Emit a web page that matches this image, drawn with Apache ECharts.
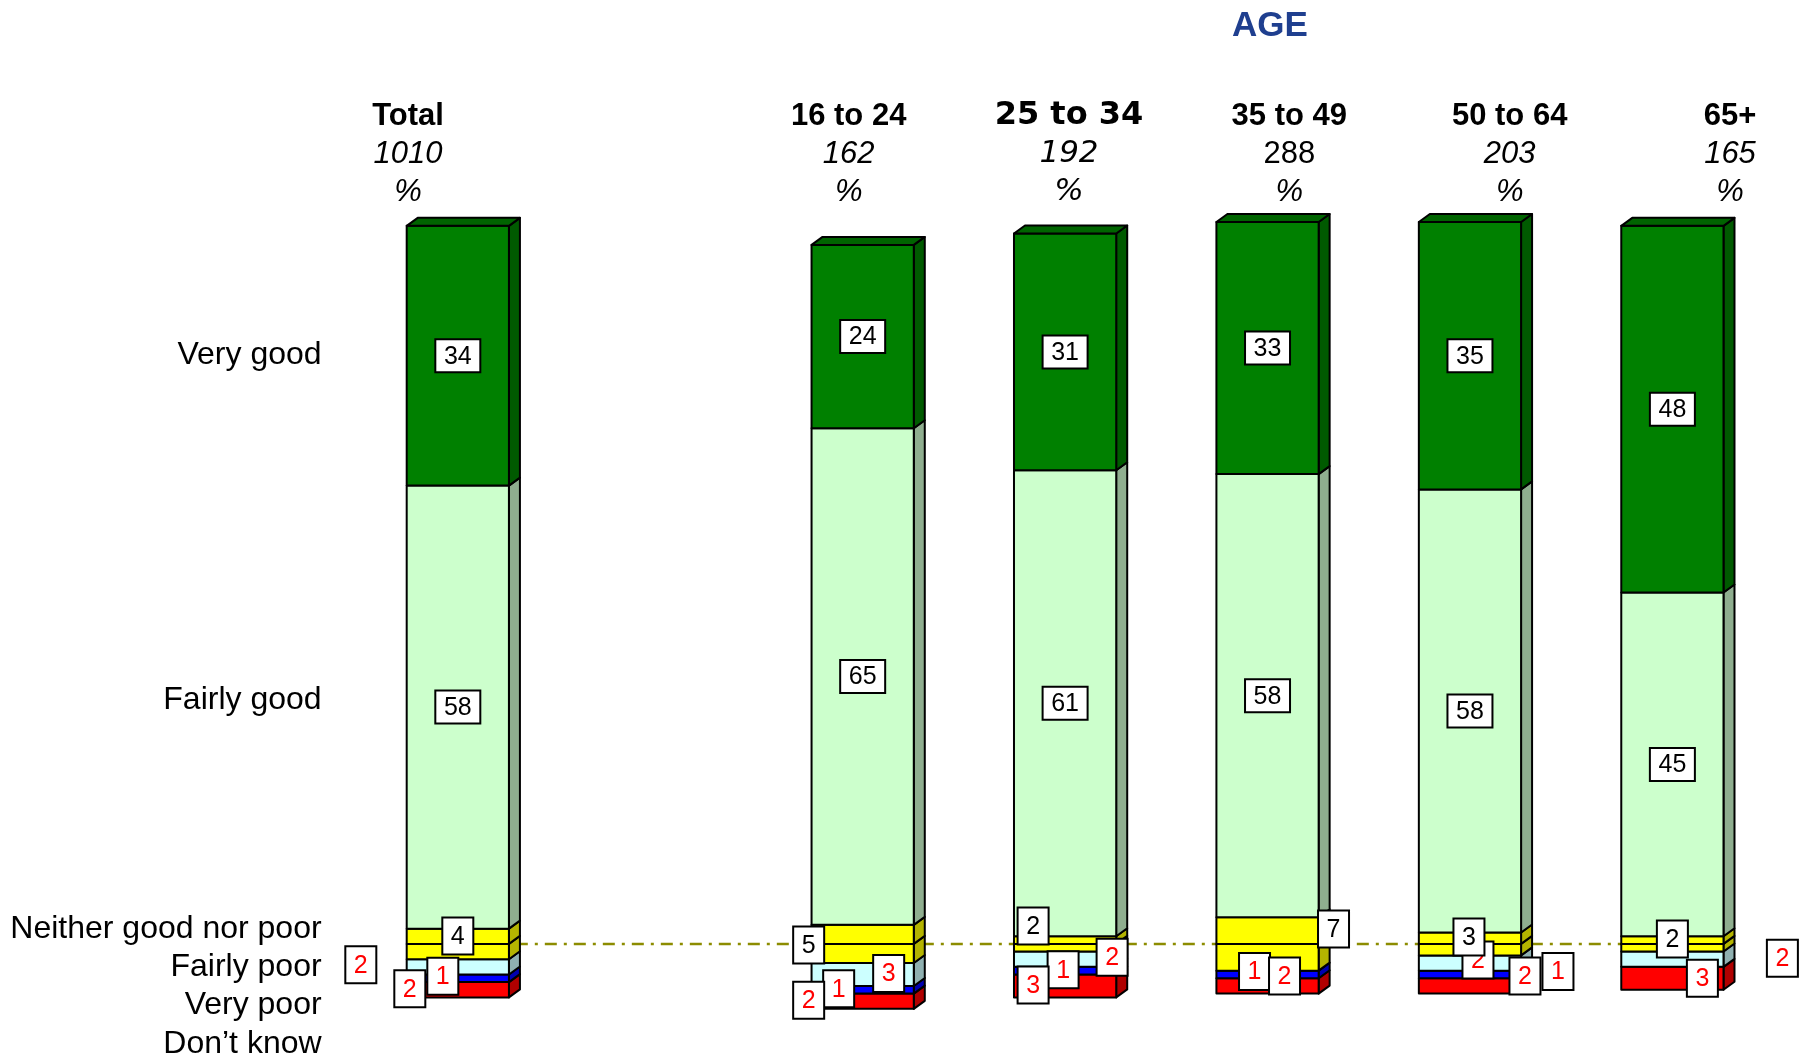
<!DOCTYPE html>
<html>
<head>
<meta charset="utf-8">
<title>Health by age</title>
<script src="https://cdn.jsdelivr.net/npm/echarts@6/dist/echarts.min.js"></script>
<style>
    html, body { margin: 0; padding: 0; background: #fff; }
    #chart-container { width: 1808px; height: 1060px; }
</style>
</head>
<body>
<div id="chart-container"></div>
<script>
// 列：Total，空列，然后是年龄段
const categories = ['Total', '', '16 to 24', '25 to 34', '35 to 49', '50 to 64', '65+'];
const bases = ['1010', '', '162', '192', '288', '203', '165'];
const rowLabels = ['Very good', 'Fairly good', 'Neither good nor poor', 'Fairly poor', 'Very poor', 'Don’t know'];
const rowLabelPos = [77.1, 31.9, 1.9, -3.1, -8.0, -13.1];

const veryGood   = [34, null, 24, 31, 33, 35, 48];
const fairlyGood = [58, null, 65, 61, 58, 58, 45];
const neither    = [4, null, 5, 2, 7, 3, 2];
const fairlyPoor = [2, null, 3, 2, 0, 2, 2];
const veryPoor   = [1, null, 1, 1, 1, 1, 0];
const dontKnow   = [2, null, 2, 3, 2, 2, 3];

// 小标签的偏移（像素）
const labelNudge = {
    neither:    [[0, -8], null, [-54, 1], [-32, -18], [66, -15], [-1, -7], [0, -5]],
    fairlyPoor: [[-97, -2], null, [26, -1], [47, -2], null, [8, -3], [110, -1]],
    veryPoor:   [[-15, -2], null, [-24, -1], [-2, -1], [-13, -3], [88, -3], null],
    dontKnow:   [[-48, -1], null, [-54, -1], [-32, -1], [17, -10], [55, -10], [30, 0]]
};

const palette = {
    veryGood:   { front: '#008000', side: '#005a00', top: '#006400' },
    fairlyGood: { front: '#ccffcc', side: '#8fae8f' },
    neither:    { front: '#ffff00', side: '#b4b400' },
    fairlyPoor: { front: '#ccffff', side: '#8fb0b0' },
    veryPoor:   { front: '#0000ff', side: '#0000b0' },
    dontKnow:   { front: '#ff0000', side: '#b00000' }
};
const DX = 11, DY = -8;

// 以中性项的中点为基线，正负两边堆叠
const segs = categories.map((c, i) => {
    if (veryGood[i] == null) return null;
    const half = neither[i] / 2;
    const fgTop = half + fairlyGood[i];
    const fpBot = -half - fairlyPoor[i];
    const vpBot = fpBot - veryPoor[i];
    return {
        veryGood: [fgTop, fgTop + veryGood[i]],
        fairlyGood: [half, fgTop],
        neitherUp: [0, half],
        neitherDown: [-half, 0],
        fairlyPoor: [fpBot, -half],
        veryPoor: [vpBot, fpBot],
        dontKnow: [vpBot - dontKnow[i], vpBot]
    };
});

const draw3d = (api, col, withTop) => {
    const i = api.value(0);
    const lo = api.coord([i, api.value(1)]);
    const hi = api.coord([i, api.value(2)]);
    const w = api.size([1, 0])[0] * 0.505;
    const x0 = lo[0] - w / 2, x1 = lo[0] + w / 2;
    const yT = hi[1], yB = lo[1];
    const line = { stroke: '#000', lineWidth: 2, lineJoin: 'round' };
    const children = [
        { type: 'polygon', shape: { points: [[x1, yT], [x1 + DX, yT + DY], [x1 + DX, yB + DY], [x1, yB]] }, style: { fill: col.side, ...line } },
        { type: 'rect', shape: { x: x0, y: yT, width: w, height: yB - yT }, style: { fill: col.front, ...line } }
    ];
    if (withTop) {
        children.push({ type: 'polygon', shape: { points: [[x0, yT], [x0 + DX, yT + DY], [x1 + DX, yT + DY], [x1, yT]] }, style: { fill: col.top, ...line } });
    }
    return { type: 'group', children };
};

const barSeries = (key, parts) => {
    const data = [];
    segs.forEach((s, i) => {
        if (!s) return;
        parts.forEach(p => {
            const [lo, hi] = s[p];
            if (hi - lo > 0) data.push([i, lo, hi]);
        });
    });
    return {
        type: 'custom', name: key, z: 2,
        renderItem: (params, api) => draw3d(api, palette[key], key === 'veryGood'),
        encode: { x: 0, y: [1, 2] },
        data
    };
};

// 数据标签
const mid = r => (r[0] + r[1]) / 2;
const labelData = [];
const smallRows = [['fairlyPoor', fairlyPoor], ['veryPoor', veryPoor], ['dontKnow', dontKnow]];
segs.forEach((s, i) => {
    if (!s) return;
    smallRows.forEach(([key, arr]) => {
        if (!arr[i]) return;
        const n = labelNudge[key][i];
        labelData.push({ i, y: mid(s[key]), text: String(arr[i]), kind: 'small', dx: n[0], dy: n[1] });
    });
});
segs.forEach((s, i) => {
    if (!s) return;
    const n = labelNudge.neither[i];
    labelData.push({ i, y: 0, text: String(neither[i]), kind: 'neutral', dx: n[0], dy: n[1] });
    labelData.push({ i, y: mid(s.fairlyGood), text: String(fairlyGood[i]), kind: 'big', dx: 0, dy: 0 });
    labelData.push({ i, y: mid(s.veryGood), text: String(veryGood[i]), kind: 'big', dx: 0, dy: 0 });
});

const drawLabel = (params, api) => {
    const d = labelData[params.dataIndex];
    const p = api.coord([d.i, d.y]);
    const big = d.kind === 'big';
    const w = big ? 45 : 31, h = big ? 33 : 37;
    const cx = p[0] + d.dx, cy = p[1] + d.dy;
    return {
        type: 'group',
        children: [
            { type: 'rect', shape: { x: cx - w / 2, y: cy - h / 2, width: w, height: h }, style: { fill: '#fff', stroke: '#000', lineWidth: 2 } },
            { type: 'text', style: { text: d.text, x: cx, y: cy + 1, align: 'center', verticalAlign: 'middle', font: '25px "Liberation Sans", Arial, sans-serif', fill: d.kind === 'small' ? '#ff0000' : '#000' } }
        ]
    };
};

const chart = echarts.init(document.getElementById('chart-container'));

const option = {
    backgroundColor: '#fff',
    animation: false,
    title: {
        text: 'AGE', left: 1265, top: 4, textAlign: 'center',
        textStyle: { fontFamily: 'Liberation Sans', fontWeight: 'bold', fontSize: 35, color: '#1f3f8f' }
    },
    grid: [
        { left: 356.6, width: 1417, top: 180, bottom: 0 },
        { left: 408, width: 1322, top: 215, height: 1 }
    ],
    xAxis: [
        { type: 'category', gridIndex: 0, data: categories, show: false },
        {
            type: 'category', gridIndex: 1, data: categories, position: 'top', boundaryGap: false,
            axisLine: { show: false }, axisTick: { show: false },
            axisLabel: {
                interval: 0, margin: 4,
                formatter: (v, idx) => {
                    if (!v) return '';
                    if (idx === 3) return `{headV|${v}}\n{baseV|${bases[idx]}}\n{baseV|%}`;
                    const b = idx === 4 ? 'plain' : 'base';
                    return `{head|${v}}\n{${b}|${bases[idx]}}\n{base|%}`;
                },
                rich: {
                    head: { fontFamily: 'Liberation Sans', fontWeight: 'bold', fontSize: 31, lineHeight: 38, color: '#000' },
                    base: { fontFamily: 'Liberation Sans', fontStyle: 'italic', fontSize: 31, lineHeight: 38, color: '#000' },
                    plain: { fontFamily: 'Liberation Sans', fontSize: 31, lineHeight: 38, color: '#000' },
                    headV: { fontFamily: 'DejaVu Sans', fontWeight: 'bold', fontSize: 32, lineHeight: 38, color: '#000' },
                    baseV: { fontFamily: 'DejaVu Sans', fontStyle: 'italic', fontSize: 31, lineHeight: 38, color: '#000' }
                }
            }
        }
    ],
    yAxis: [
        {
            type: 'value', gridIndex: 0, min: -15, max: 100,
            axisLine: { show: false }, axisTick: { show: false }, splitLine: { show: false },
            axisLabel: {
                customValues: rowLabelPos, margin: 35,
                fontFamily: 'Liberation Sans', fontSize: 32, color: '#000',
                formatter: v => {
                    let best = 0;
                    rowLabelPos.forEach((p, k) => { if (Math.abs(p - v) < Math.abs(rowLabelPos[best] - v)) best = k; });
                    return rowLabels[best];
                }
            }
        },
        { type: 'value', gridIndex: 1, show: false }
    ],
    series: [
        {
            type: 'custom', name: 'baseline', z: 1,
            encode: { x: 0, y: 2 },
            data: [[0, 6, 0]],
            renderItem: (params, api) => {
                const a = api.coord([api.value(0), api.value(2)]);
                const b = api.coord([api.value(1), api.value(2)]);
                return { type: 'line', shape: { x1: a[0], y1: a[1], x2: b[0], y2: b[1] }, style: { stroke: '#8c8c00', lineWidth: 2.5, lineDash: [12, 7, 3, 7] } };
            }
        },
        barSeries('dontKnow', ['dontKnow']),
        barSeries('veryPoor', ['veryPoor']),
        barSeries('fairlyPoor', ['fairlyPoor']),
        barSeries('neither', ['neitherDown', 'neitherUp']),
        barSeries('fairlyGood', ['fairlyGood']),
        barSeries('veryGood', ['veryGood']),
        {
            type: 'custom', name: 'labels', z: 3,
            encode: { x: 0, y: 1 },
            data: labelData.map(d => [d.i, d.y]),
            renderItem: drawLabel
        }
    ]
};

chart.setOption(option);
</script>
</body>
</html>
